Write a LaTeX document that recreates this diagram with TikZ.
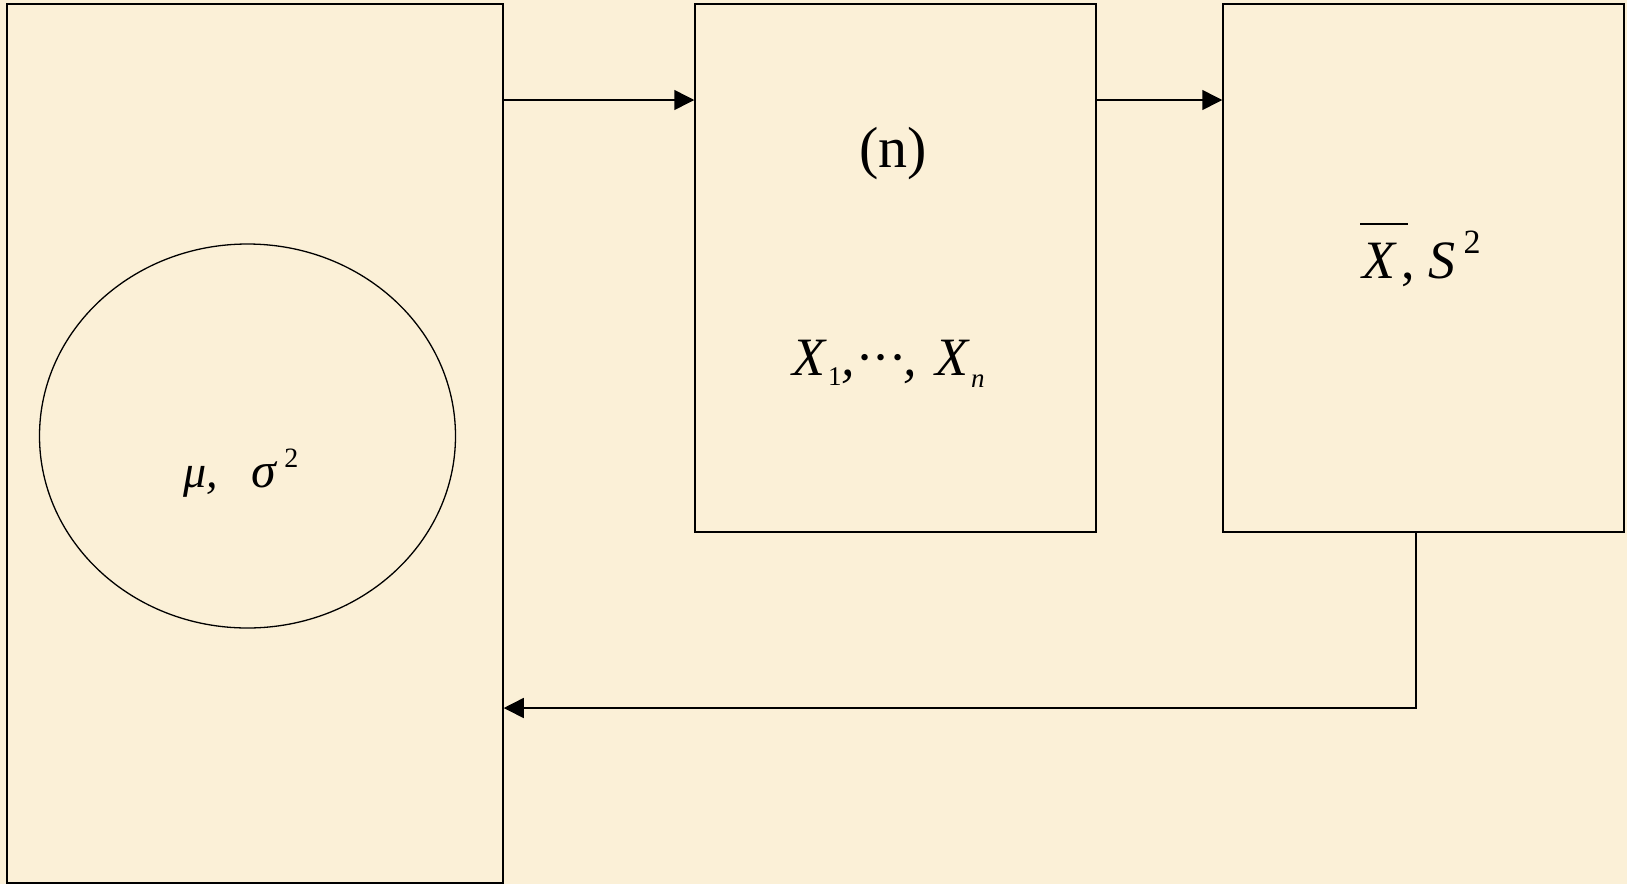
\documentclass[tikz,border=0pt]{standalone}
\usepackage{fontspec}
\setmainfont{Liberation Serif}
\usetikzlibrary{arrows.meta,shapes.geometric}
\definecolor{bg}{RGB}{251,240,215}
\begin{document}
\begin{tikzpicture}[x=1pt,y=-1pt,
  box/.style={draw, line width=1.5pt, inner sep=0pt, rectangle},
  arr/.style={line width=1.5pt, -{Triangle[length=20pt,width=20pt]}},
  lbl/.style={inner sep=0pt, anchor=base west}]
\fill[bg] (0,0) rectangle (1627,884);
\useasboundingbox (0,0) rectangle (1627,884);
\node[box, minimum width=496pt, minimum height=879pt] (lbox) at (255,443.5) {};
\node[box, minimum width=401pt, minimum height=528pt] (mbox) at (895.5,268) {};
\node[box, minimum width=401pt, minimum height=528pt] (rbox) at (1423.5,268) {};
\node[draw, ellipse, line width=1.3pt, inner sep=0pt, minimum width=416pt, minimum height=384pt] (pop) at (247.5,436) {};
\node[inner sep=0pt, anchor=base] (n) at (893,167) {\fontsize{58}{60}\selectfont (n)};
\node[lbl] (xs) at (792,375) {\fontsize{54}{60}\selectfont\itshape X\hspace{3pt}\raisebox{-10pt}{\fontsize{27}{27}\selectfont\upshape 1},\hspace{2pt}·\hspace{3pt}·\hspace{3pt}·,\hspace{18pt}X\hspace{3pt}\raisebox{-12pt}{\fontsize{27}{27}\selectfont n}};
\node[lbl] (stat) at (1362,278) {\fontsize{54}{60}\selectfont\itshape\makebox[0pt][l]{\hspace{-2pt}\raisebox{53pt}{\rule{48pt}{2pt}}}X\hspace{6pt}\upshape,\hspace{14pt}\itshape S\hspace{8pt}\raisebox{25pt}{\fontsize{34}{34}\selectfont\upshape 2}};
\node[lbl] (par) at (183,487) {\fontsize{46}{50}\selectfont\itshape μ,\hspace{34pt}\fontsize{50}{50}\selectfont σ\hspace{8pt}\raisebox{20pt}{\fontsize{28}{28}\selectfont\upshape 2}};
\coordinate (ya) at (0,100);
\coordinate (fb) at (1416,708);
\draw[arr] (lbox.east |- ya) -- (mbox.west |- ya);
\draw[arr] (mbox.east |- ya) -- (rbox.west |- ya);
\draw[arr] (rbox.south -| fb) |- (lbox.east |- fb);
\end{tikzpicture}
\end{document}
